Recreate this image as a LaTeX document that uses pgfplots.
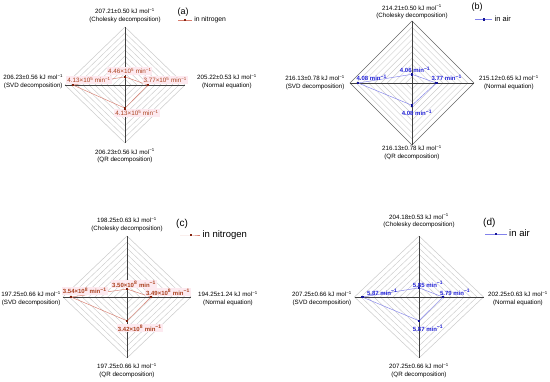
\documentclass[border=0pt]{standalone}
\usepackage{fontspec}
\setmainfont{Liberation Sans}
\usepackage{pgfplots}
\pgfplotsset{compat=1.18}
\definecolor{nline}{RGB}{215,125,110}
\definecolor{nmark}{RGB}{130,35,15}
\definecolor{ntext}{RGB}{170,65,30}
\definecolor{npink}{RGB}{253,234,240}
\definecolor{aline}{RGB}{130,130,235}
\definecolor{amark}{RGB}{20,20,150}
\definecolor{atext}{RGB}{35,35,215}
\definecolor{gridc}{RGB}{205,205,205}
\newcommand{\fs}[2]{\fontsize{#1}{#2}\selectfont}
\newcommand{\radargrid}[1]{%
  \pgfplotsinvokeforeach{0.1,0.2,0.3,0.4,0.5,0.6,0.7,0.8,0.9}{%
    \addplot[forget plot, mark=none, gridc, line width=0.45pt] coordinates {(##1,0)(0,##1)(-##1,0)(0,-##1)(##1,0)};}
  \addplot[forget plot, mark=none, #1, line width=0.55pt] coordinates {(1,0)(0,1)(-1,0)(0,-1)(1,0)};
  \addplot[forget plot, mark=none, black!75, line width=0.55pt] coordinates {(-1,0)(1,0)};
  \addplot[forget plot, mark=none, black!75, line width=0.55pt] coordinates {(0,-1)(0,1)};
}
\tikzset{
  lbl/.style={font=\fs{6.2}{7.5}, align=center, inner sep=0pt},
  nlab/.style={font=\fs{6.3}{7}, text=ntext, fill=npink, inner sep=1pt},
  alab/.style={font=\bfseries\fs{6}{7}, text=atext, inner sep=0.5pt},
  nser/.style={nline, line width=0.45pt, mark=square*, mark size=0.6pt, mark options={draw=nmark, fill=nmark}},
  aser/.style={aline, line width=0.45pt, mark=square*, mark size=0.6pt, mark options={draw=amark, fill=amark}}}
\pgfplotsset{radar/.style={hide axis, anchor=origin, xmin=-1, xmax=1, ymin=-1, ymax=1, clip=false,
  legend style={anchor=west, draw=none, fill=none, inner sep=0pt, outer sep=0pt, cells={anchor=west}},
  legend cell align=left}}
\begin{document}
\begin{tikzpicture}
\useasboundingbox (0,0) rectangle (550pt,382pt);
% (a)
\begin{axis}[radar, at={(125pt,297pt)}, x=60pt, y=58pt,
  legend style={at={(0.94,1.06)}, font=\fs{6.8}{8}},
  legend image code/.code={\draw[mark repeat=2,mark phase=2,#1] plot coordinates {(0pt,0pt)(7pt,0pt)(14pt,0pt)};}]
\radargrid{gridc}
\addplot[nser] coordinates {(0.38,0)(0,0.14)(-0.87,0)(0,-0.4)(0.38,0)};
\addlegendentry{in nitrogen}
\node[lbl] at (axis cs:0,1.20) {207.21±0.50 kJ mol\textsuperscript{−1}\\(Cholesky decomposition)};
\node[lbl, anchor=west] at (axis cs:1.2,0.06) {205.22±0.53 kJ mol\textsuperscript{−1}\\(Normal equation)};
\node[lbl, anchor=east] at (axis cs:-1.03,0.06) {206.23±0.56 kJ mol\textsuperscript{−1}\\(SVD decomposition)};
\node[lbl] at (axis cs:0,-1.22) {206.23±0.56 kJ mol\textsuperscript{−1}\\(QR decomposition)};
\node[nlab] at (axis cs:0.08,0.24) {4.46×10\textsuperscript{5} min\textsuperscript{−1}};
\node[nlab] at (axis cs:0.67,0.09) {3.77×10\textsuperscript{5} min\textsuperscript{−1}};
\node[nlab] at (axis cs:-0.6,0.09) {4.13×10\textsuperscript{5} min\textsuperscript{−1}};
\node[nlab] at (axis cs:0.2,-0.48) {4.13×10\textsuperscript{5} min\textsuperscript{−1}};
\node[font=\fs{9}{10}] at (axis cs:0.97,1.26) {(a)};
\end{axis}
% (b)
\begin{axis}[radar, at={(412pt,299pt)}, x=62pt, y=62pt,
  legend style={at={(1.01,1.015)}, font=\fs{7.5}{8}},
  legend image code/.code={\draw[mark repeat=2,mark phase=2,#1] plot coordinates {(0pt,0pt)(8.5pt,0pt)(17pt,0pt)};}]
\radargrid{black!60}
\addplot[aser] coordinates {(0.39,0)(0,0.14)(-0.87,0)(0,-0.36)(0.39,0)};
\addlegendentry{in air}
\node[lbl] at (axis cs:0,1.15) {214.21±0.50 kJ mol\textsuperscript{−1}\\(Cholesky decomposition)};
\node[lbl, anchor=west] at (axis cs:1.08,0.01) {215.12±0.65 kJ mol\textsuperscript{−1}\\(Normal equation)};
\node[lbl, anchor=east] at (axis cs:-1.08,0.01) {216.13±0.78 kJ mol\textsuperscript{−1}\\(SVD decomposition)};
\node[lbl] at (axis cs:0,-1.12) {216.13±0.78 kJ mol\textsuperscript{−1}\\(QR decomposition)};
\node[alab] at (axis cs:0.05,0.21) {4.06 min\textsuperscript{−1}};
\node[alab] at (axis cs:0.56,0.08) {3.77 min\textsuperscript{−1}};
\node[alab] at (axis cs:-0.65,0.08) {4.08 min\textsuperscript{−1}};
\node[alab] at (axis cs:0.08,-0.48) {4.08 min\textsuperscript{−1}};
\node[font=\fs{9}{10}] at (axis cs:1.05,1.23) {(b)};
\end{axis}
% (c)
\begin{axis}[radar, at={(127pt,85pt)}, x=64pt, y=61pt,
  legend style={at={(0.915,1.01)}, font=\fs{9.5}{10}},
  legend image code/.code={\draw[mark repeat=2,mark phase=2,#1] plot coordinates {(0pt,0pt)(10pt,0pt)(20pt,0pt)};}]
\radargrid{gridc}
\addplot[nser] coordinates {(0.375,0)(0,0.13)(-0.875,0)(0,-0.39)(0.375,0)};
\addlegendentry{in nitrogen}
\node[lbl] at (axis cs:0,1.19) {198.25±0.63 kJ mol\textsuperscript{−1}\\(Cholesky decomposition)};
\node[lbl, anchor=west] at (axis cs:1.11,-0.02) {194.25±1.24 kJ mol\textsuperscript{−1}\\(Normal equation)};
\node[lbl, anchor=east] at (axis cs:-1.03,-0.02) {197.25±0.66 kJ mol\textsuperscript{−1}\\(SVD decomposition)};
\node[lbl] at (axis cs:0,-1.20) {197.25±0.66 kJ mol\textsuperscript{−1}\\(QR decomposition)};
\node[nlab, font=\bfseries\fs{6}{7}] at (axis cs:0.11,0.21) {3.50×10\textsuperscript{8} min\textsuperscript{−1}};
\node[nlab, font=\bfseries\fs{6}{7}] at (axis cs:0.64,0.08) {3.49×10\textsuperscript{8} min\textsuperscript{−1}};
\node[nlab, font=\bfseries\fs{6}{7}] at (axis cs:-0.66,0.10) {3.54×10\textsuperscript{8} min\textsuperscript{−1}};
\node[nlab, font=\bfseries\fs{6}{7}] at (axis cs:0.2,-0.51) {3.42×10\textsuperscript{8} min\textsuperscript{−1}};
\node[font=\fs{10}{11}] at (axis cs:0.86,1.2) {(c)};
\end{axis}
% (d)
\begin{axis}[radar, at={(419pt,85pt)}, x=64.5pt, y=61pt,
  legend style={at={(1.01,1.016)}, font=\fs{9.5}{10}},
  legend image code/.code={\draw[mark repeat=2,mark phase=2,#1] plot coordinates {(0pt,0pt)(11pt,0pt)(22pt,0pt)};}]
\radargrid{gridc}
\addplot[aser] coordinates {(0.37,0)(0,0.15)(-0.88,0)(0,-0.39)(0.37,0)};
\addlegendentry{in air}
\node[lbl] at (axis cs:0,1.25) {204.18±0.53 kJ mol\textsuperscript{−1}\\(Cholesky decomposition)};
\node[lbl, anchor=west] at (axis cs:1.07,-0.02) {202.25±0.63 kJ mol\textsuperscript{−1}\\(Normal equation)};
\node[lbl, anchor=east] at (axis cs:-1.04,-0.02) {207.25±0.66 kJ mol\textsuperscript{−1}\\(SVD decomposition)};
\node[lbl] at (axis cs:0,-1.20) {207.25±0.66 kJ mol\textsuperscript{−1}\\(QR decomposition)};
\node[alab] at (axis cs:0.14,0.21) {5.85 min\textsuperscript{−1}};
\node[alab] at (axis cs:0.56,0.08) {5.79 min\textsuperscript{−1}};
\node[alab] at (axis cs:-0.57,0.08) {5.87 min\textsuperscript{−1}};
\node[alab] at (axis cs:0.14,-0.51) {5.87 min\textsuperscript{−1}};
\node[font=\fs{10}{11}] at (axis cs:1.09,1.21) {(d)};
\end{axis}
\end{tikzpicture}
\end{document}
